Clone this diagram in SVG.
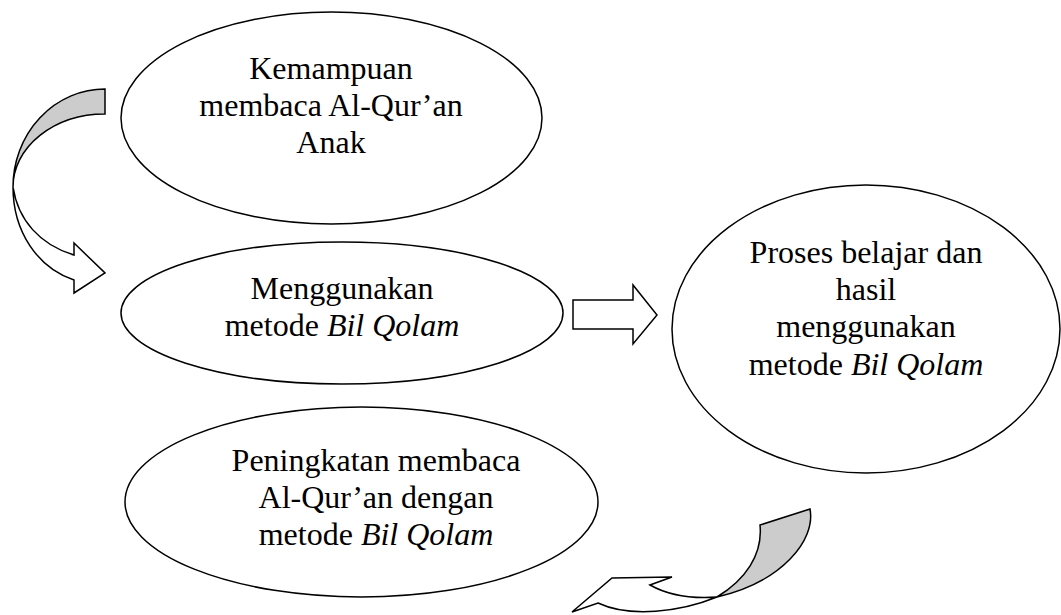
<svg xmlns="http://www.w3.org/2000/svg" width="1061" height="615" viewBox="0 0 1061 615">
<style>
.node ellipse{fill:#ffffff;stroke:#000000;stroke-width:1.5}
.lbl{font-family:"Liberation Serif","Times New Roman",serif;font-size:32px;fill:#000000;text-anchor:middle}
.it{font-style:italic}
.arr{stroke:#000000;stroke-width:1.5;stroke-linejoin:miter}
.gray{fill:#cccccc}
.white{fill:#ffffff}
</style>
<rect x="0" y="0" width="1061" height="615" fill="#ffffff"/>
<g id="connectors">
  <g id="arrow-left-curved">
    <path class="arr gray" d="M105,89 L105,114 A92,73 0 0 0 13,187 A92,98 0 0 1 105,89 Z"/>
    <path class="arr white" d="M13,187 C13,232 38,268 74,280 L74,293 L105,273 L74,243 L74,255 C40,245 18,220 13,187 Z"/>
  </g>
  <g id="arrow-right-block">
    <path class="arr white" d="M573,300 L633,300 L633,285 L657,315 L633,344 L633,329 L573,329 Z"/>
  </g>
  <g id="arrow-bottom-curved">
    <path class="arr gray" d="M760,525 L810,509 C816,540 782,582 717,597 C745,580 763,555 760,525 Z"/>
    <path class="arr white" d="M717,597 C680,612 630,618 598,603 L572,612 L612,578 L672,577 L650,585 C666,594 690,599 717,597 Z"/>
  </g>
</g>
<g id="node-kemampuan" class="node">
  <ellipse cx="331.5" cy="118" rx="210.5" ry="106"/>
  <text class="lbl" x="331" y="79">Kemampuan</text>
  <text class="lbl" x="331" y="116">membaca Al-Qur’an</text>
  <text class="lbl" x="331" y="153">Anak</text>
</g>
<g id="node-menggunakan" class="node">
  <ellipse cx="342" cy="313" rx="221" ry="71"/>
  <text class="lbl" x="342" y="299">Menggunakan</text>
  <text class="lbl" x="342" y="336">metode <tspan class="it">Bil Qolam</tspan></text>
</g>
<g id="node-proses" class="node">
  <ellipse cx="866" cy="329" rx="194" ry="144"/>
  <text class="lbl" x="866" y="263">Proses belajar dan</text>
  <text class="lbl" x="866" y="300">hasil</text>
  <text class="lbl" x="866" y="337">menggunakan</text>
  <text class="lbl" x="866" y="375">metode <tspan class="it">Bil Qolam</tspan></text>
</g>
<g id="node-peningkatan" class="node">
  <ellipse cx="361.5" cy="502" rx="236.5" ry="95"/>
  <text class="lbl" x="376" y="471">Peningkatan membaca</text>
  <text class="lbl" x="376" y="508">Al-Qur’an dengan</text>
  <text class="lbl" x="376" y="545">metode <tspan class="it">Bil Qolam</tspan></text>
</g>
</svg>
